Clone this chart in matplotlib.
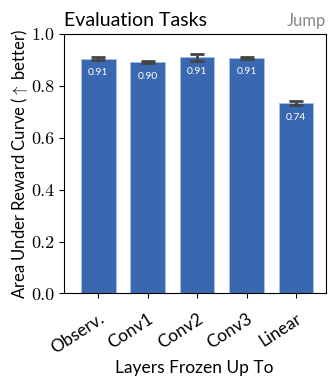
import matplotlib
matplotlib.use('Agg')
import matplotlib.pyplot as plt

# datos
capas = ['Observ.', 'Conv1', 'Conv2', 'Conv3', 'Linear']
auc = [0.906, 0.894, 0.911, 0.910, 0.734]
err = [0.006, 0.003, 0.013, 0.004, 0.007]
etiquetas = ['0.91', '0.90', '0.91', '0.91', '0.74']
marcas_y = [0.0, 0.2, 0.4, 0.6, 0.8, 1.0]

plt.rcParams['font.family'] = ['Lato', 'DejaVu Sans']
plt.rcParams['mathtext.fontset'] = 'cm'

fig = plt.figure(figsize=(3.33, 3.81), dpi=100)
ax = fig.add_axes([0.191, 0.230, 0.787, 0.680])

x = range(len(capas))
ax.bar(x, auc, width=0.7, color='#3a68b0', edgecolor='#a9c1e3', linewidth=0.6,
       yerr=err, capsize=5, error_kw=dict(ecolor='#454545', elinewidth=2, capthick=2))

for i, (v, t) in enumerate(zip(auc, etiquetas)):
    ax.text(i, v - 0.055, t, ha='center', va='center', color='white', fontsize=7.5)

ax.set_xlim(-0.7, 4.6)
ax.set_ylim(0, 1)
ax.set_yticks(marcas_y)
ax.set_yticklabels(['%.1f' % v for v in marcas_y], fontfamily='cmr10')
ax.tick_params(axis='y', labelsize=13, length=3.5, pad=3)
ax.set_xticks(list(x))
ax.set_xticklabels(capas, rotation=33, ha='right', rotation_mode='anchor', fontsize=12.5)
ax.tick_params(axis='x', length=3.5, pad=9)

ax.set_ylabel(r'Area Under Reward Curve ($\uparrow$ better)', fontsize=12, labelpad=1)
ax.set_xlabel('Layers Frozen Up To', fontsize=12.5, labelpad=2)
ax.set_title('Evaluation Tasks', loc='left', fontsize=14, pad=6)
ax.set_title('Jump', loc='right', fontsize=12, color='#888888', pad=6)

plt.savefig('out.png', dpi=100)
